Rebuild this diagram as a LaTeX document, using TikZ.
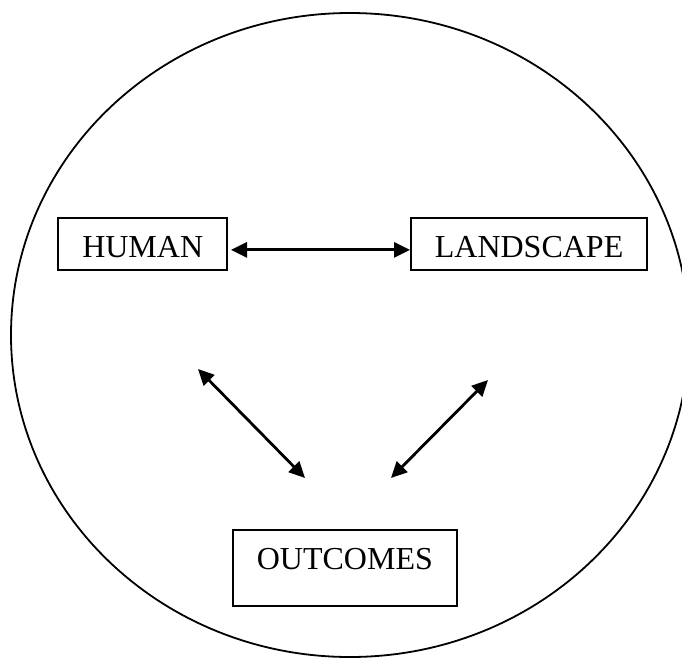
\documentclass[tikz,border=0pt]{standalone}
\usepackage{fontspec}
\setmainfont{Liberation Serif}
\usepackage{tikz}
\usetikzlibrary{arrows.meta,positioning}

\begin{document}
\begin{tikzpicture}[
    x=1pt,y=-1pt,
    line join=miter,
    wordbox/.style={draw=black, line width=1.7pt, inner xsep=24pt, inner ysep=0pt, text height=40pt, text depth=12pt, font=\fontsize{32}{38}\selectfont},
    twoway/.style={{Triangle[length=16pt,width=15pt]}-{Triangle[length=16pt,width=15pt]}, line width=2.8pt, draw=black},
    outline/.style={draw=black, line width=1.8pt}
]
\useasboundingbox (0,0) rectangle (682,659);

% Outer ellipse
\draw[outline] (350,335) ellipse [x radius=339, y radius=322];

% Boxes
\node[wordbox, anchor=north east] (human) at (228,217) {HUMAN};
\node[wordbox, anchor=north west] (landscape) at (410,217) {LANDSCAPE};
\node[wordbox, anchor=north west, text depth=36pt] (outcomes) at (232,529) {OUTCOMES};

% Free ends of the diagonal arrows
\coordinate (humanend) at (198,369);
\coordinate (outleft) at (305,478);
\coordinate (outright) at (391,478);
\coordinate (landend) at (488,380);

% Arrows
\draw[twoway, shorten <=3pt] ([yshift=-6pt]human.east) -- ([yshift=-6pt]landscape.west);
\draw[twoway] (humanend) -- (outleft);
\draw[twoway] (outright) -- (landend);

\end{tikzpicture}
\end{document}
